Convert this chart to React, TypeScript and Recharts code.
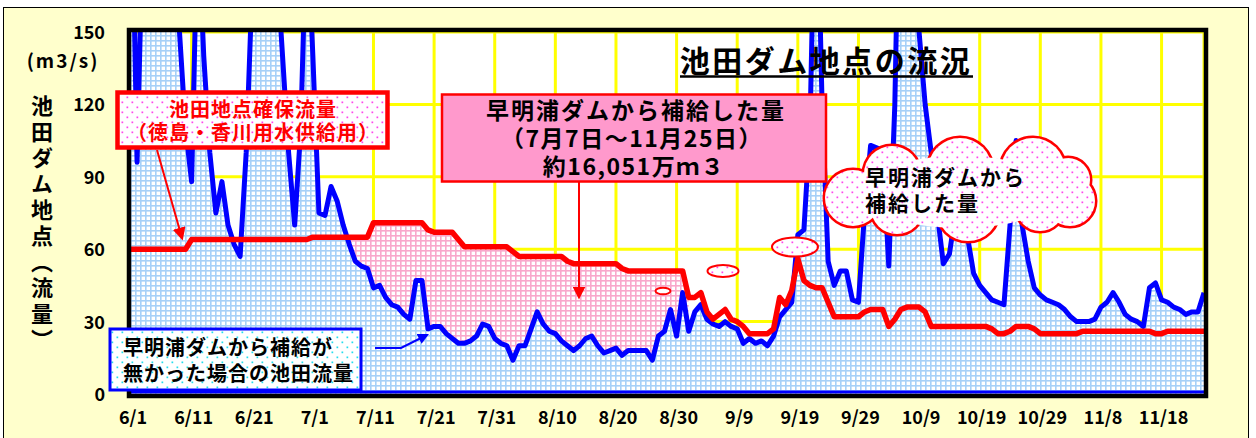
import React from 'react';
import { ComposedChart, Area, Line, XAxis, YAxis, CartesianGrid } from 'recharts';

const FONT = '"Noto Sans CJK JP", "Noto Sans", sans-serif';

// 6/1 .. 11/25, one value per day (m3/s)
const BLUE_FLOW = [
  230, 96, 200, 250, 220, 260, 240, 175, 150, 110,
  88, 200, 140, 100, 75, 88, 70, 62, 57, 100,
  170, 210, 230, 220, 180, 140, 100, 70, 110, 200,
  140, 75, 74, 86, 80, 70, 62, 55, 53, 52,
  44, 45, 40, 37, 36, 33, 31, 47, 47, 27,
  28, 28, 25, 23, 21, 21, 22, 24, 29, 28,
  23, 21, 20, 14, 20, 20, 27, 34, 29, 26,
  25, 22, 20, 18, 20, 23, 24, 20, 17, 18,
  19, 16, 18, 18, 18, 18, 14, 24, 26, 35,
  24, 42, 26, 34, 37, 31, 29, 28, 30, 28,
  27, 21, 23, 21, 22, 20, 24, 32, 35, 38,
  66, 68, 110, 230, 120, 55, 45, 51, 51, 39,
  38, 75, 103, 102, 101, 53, 120, 250, 290, 240,
  150, 120, 100, 75, 54, 58, 75, 90, 65, 50,
  45, 42, 39, 38, 37, 70, 105, 70, 55, 44,
  41, 39, 38, 37, 35, 32, 30, 30, 30, 31,
  36, 38, 42, 38, 33, 31, 30, 28, 44, 46,
  39, 38, 36, 35, 33, 34, 34, 42,
];

const RED_FLOW = [
  60, 60, 60, 60, 60, 60, 60, 60, 60, 60,
  64, 64, 64, 64, 64, 64, 64, 64, 64, 64,
  64, 64, 64, 64, 64, 64, 64, 64, 64, 64,
  65, 65, 65, 65, 65, 65, 65, 65, 65, 65,
  71, 71, 71, 71, 71, 71, 71, 71, 71, 68,
  67, 67, 67, 67, 64, 61, 61, 61, 61, 61,
  61, 61, 61, 59, 57, 57, 57, 57, 57, 57,
  57, 57, 55, 54, 54, 54, 54, 54, 54, 54,
  54, 52, 51, 51, 51, 51, 51, 51, 51, 51,
  51, 51, 40, 40, 42, 34, 31, 33, 35, 31,
  30, 28, 25, 25, 25, 25, 27, 40, 37, 43,
  56, 47, 45, 44, 44, 38, 32, 32, 32, 32,
  32, 34, 35, 35, 35, 28, 31, 35, 36, 36,
  36, 34, 28, 28, 28, 28, 28, 28, 28, 28,
  28, 28, 27, 25, 25, 26, 28, 28, 28, 27,
  25, 25, 25, 25, 25, 25, 25, 26, 26, 26,
  26, 26, 26, 26, 26, 26, 26, 26, 26, 25,
  25, 26, 26, 26, 26, 26, 26, 26,
];

// days where the supplied volume is shaded pink
const SUPPLY_FROM = 35;
const SUPPLY_TO = 92;

const TICK_DAYS = [0, 10, 20, 30, 40, 50, 60, 70, 80, 90, 100, 110, 120, 130, 140, 150, 160, 170];
const TICK_LABELS = [
  '6/1', '6/11', '6/21', '7/1', '7/11', '7/21', '7/31', '8/10', '8/20',
  '8/30', '9/9', '9/19', '9/29', '10/9', '10/19', '10/29', '11/8', '11/18',
];
const Y_TICKS = [0, 30, 60, 90, 120, 150];

const data = BLUE_FLOW.map((b, i) => ({
  day: i,
  blue: b,
  red: RED_FLOW[i],
  pink: i >= SUPPLY_FROM && i <= SUPPLY_TO ? [b, Math.max(b, RED_FLOW[i])] : null,
}));

function XTick({ x, y, payload }: any) {
  const label = TICK_LABELS[TICK_DAYS.indexOf(payload.value)];
  return (
    <text x={x + 2} y={y + 30} textAnchor="middle" fontFamily={FONT} fontWeight={700} fontSize={18} fill="#000">
      {label}
    </text>
  );
}

function YTick({ x, y, payload }: any) {
  return (
    <text x={x - 26} y={y + 7} textAnchor="end" fontFamily={FONT} fontWeight={700} fontSize={18} fill="#000">
      {payload.value}
    </text>
  );
}

const CLOUD: [number, number, number][] = [
  [853, 198, 28],
  [892, 174, 28],
  [960, 170, 32],
  [1033, 170, 32],
  [1068, 180, 22],
  [1070, 201, 25],
  [1040, 207, 24],
  [968, 210, 31],
  [897, 208, 26],
];

export default function App() {
  return (
    <div style={{ position: 'relative', width: 1256, height: 438, overflow: 'hidden', background: '#fff' }}>
      <style>{'body{margin:0}'}</style>
      {/* cream frame */}
      <div style={{ position: 'absolute', left: 3, top: 7, width: 1244, height: 450, background: '#FFFFCC', border: '1.5px solid #000' }} />
      {/* plot background */}
      <div style={{ position: 'absolute', left: 131, top: 32, width: 1073, height: 362, background: '#fff' }} />

      <svg width={0} height={0} style={{ position: 'absolute' }}>
        <defs>
          <pattern id="blueGrid" width="5" height="5" patternUnits="userSpaceOnUse">
            <rect width="5" height="5" fill="#fff" />
            <rect width="5" height="1.6" fill="#A6D0F8" />
            <rect width="1.6" height="5" fill="#A6D0F8" />
          </pattern>
          <pattern id="pinkGrid" width="5" height="5" patternUnits="userSpaceOnUse">
            <rect width="5" height="5" fill="#fff" />
            <rect width="5" height="1.6" fill="#F9A8CB" />
            <rect width="1.6" height="5" fill="#F9A8CB" />
          </pattern>
          <pattern id="pinkDots" width="10" height="10" patternUnits="userSpaceOnUse">
            <rect width="10" height="10" fill="#fff" />
            <rect x="1.5" y="1.5" width="1.7" height="1.7" fill="#FF44EE" />
            <rect x="6.5" y="6.5" width="1.7" height="1.7" fill="#FF44EE" />
          </pattern>
          <pattern id="cyanDots" width="10" height="10" patternUnits="userSpaceOnUse">
            <rect width="10" height="10" fill="#fff" />
            <rect x="1.5" y="1.5" width="1.7" height="1.7" fill="#22DDEE" />
            <rect x="6.5" y="6.5" width="1.7" height="1.7" fill="#22DDEE" />
          </pattern>
          <marker id="redHead" viewBox="0 0 10 10" refX="8" refY="5" markerWidth="13" markerHeight="13" markerUnits="userSpaceOnUse" orient="auto">
            <path d="M0,0 L10,5 L0,10 z" fill="#FF0000" />
          </marker>
          <marker id="blueHead" viewBox="0 0 10 10" refX="8" refY="5" markerWidth="11" markerHeight="11" markerUnits="userSpaceOnUse" orient="auto">
            <path d="M0,0 L10,5 L0,10 z" fill="#0000FF" />
          </marker>
        </defs>
      </svg>

      <div style={{ position: 'absolute', left: 0, top: 0 }}>
        <ComposedChart width={1256} height={438} data={data} margin={{ top: 32, right: 52, bottom: 0, left: 31 }}>
          <CartesianGrid stroke="#FFFF00" strokeWidth={3} />
          <XAxis
            dataKey="day"
            type="number"
            domain={[0, 177]}
            ticks={TICK_DAYS}
            interval={0}
            height={44}
            axisLine={false}
            tickLine={false}
            tickSize={0}
            tickMargin={0}
            tick={<XTick />}
          />
          <YAxis
            type="number"
            domain={[0, 150]}
            ticks={Y_TICKS}
            allowDataOverflow
            width={100}
            axisLine={false}
            tickLine={false}
            tickSize={0}
            tickMargin={0}
            tick={<YTick />}
          />
          <Area type="linear" dataKey="blue" stroke="none" fill="url(#blueGrid)" fillOpacity={1} isAnimationActive={false} />
          <Area type="linear" dataKey="pink" stroke="none" fill="url(#pinkGrid)" fillOpacity={1} isAnimationActive={false} />
          <Line type="linear" dataKey="blue" stroke="#0000FF" strokeWidth={5} dot={false} activeDot={false} strokeLinejoin="round" isAnimationActive={false} />
          <Line type="linear" dataKey="red" stroke="#FF0000" strokeWidth={5.5} dot={false} activeDot={false} strokeLinejoin="round" isAnimationActive={false} />
        </ComposedChart>
      </div>

      <svg width={1256} height={438} style={{ position: 'absolute', left: 0, top: 0, pointerEvents: 'none' }} fontFamily={FONT} fontWeight={700}>
        {/* plot frame */}
        <line x1={131} y1={392} x2={1204} y2={392} stroke="#0000FF" strokeWidth={3} />
        <rect x={129} y={30} width={1077} height={366} fill="none" stroke="#000" strokeWidth={4.5} />

        {/* title */}
        <text x={826} y={72} textAnchor="middle" fontSize={30} letterSpacing={2.5} fill="#000">池田ダム地点の流況</text>
        <line x1={680} y1={76.5} x2={973} y2={76.5} stroke="#000" strokeWidth={2.5} />

        {/* guaranteed flow box */}
        <rect x={117.5} y={92.5} width={270} height={55} fill="url(#pinkDots)" stroke="#FF0000" strokeWidth={4.5} />
        <text x={253} y={117} textAnchor="middle" fontSize={20} letterSpacing={1} fill="#FF0000">池田地点確保流量</text>
        <text x={253} y={140} textAnchor="middle" fontSize={20} letterSpacing={1} fill="#FF0000">（徳島・香川用水供給用）</text>
        <line x1={157} y1={150} x2={182} y2={238} stroke="#FF0000" strokeWidth={2} markerEnd="url(#redHead)" />

        {/* supplied volume box */}
        <rect x={442} y={94.5} width={384} height={87} fill="#FF99CC" stroke="#FF0000" strokeWidth={2.5} />
        <text x={636} y={119} textAnchor="middle" fontSize={23} letterSpacing={2} fill="#000">早明浦ダムから補給した量</text>
        <text x={632} y={147} textAnchor="middle" fontSize={23} letterSpacing={1.5} fill="#000">（7月7日～11月25日）</text>
        <text x={634} y={175} textAnchor="middle" fontSize={23} letterSpacing={1.5} fill="#000">約16,051万ｍ３</text>
        <line x1={579} y1={182} x2={579} y2={297} stroke="#FF0000" strokeWidth={2} markerEnd="url(#redHead)" />

        {/* thought bubbles */}
        <ellipse cx={663} cy={291} rx={7.5} ry={3.3} fill="#fff" stroke="#FF0000" strokeWidth={2} />
        <ellipse cx={723} cy={271} rx={15.5} ry={6} fill="url(#pinkDots)" stroke="#FF0000" strokeWidth={2} />
        <ellipse cx={795} cy={247} rx={23} ry={9.5} fill="url(#pinkDots)" stroke="#FF0000" strokeWidth={2} />

        {/* cloud */}
        <g stroke="#FF0000" strokeWidth={5} fill="none">
          {CLOUD.map(([cx, cy, r], i) => <circle key={i} cx={cx} cy={cy} r={r} />)}
        </g>
        <g fill="url(#pinkDots)">
          {CLOUD.map(([cx, cy, r], i) => <circle key={i} cx={cx} cy={cy} r={r} />)}
          <ellipse cx={960} cy={192} rx={100} ry={36} />
        </g>
        <text x={865} y={185} fontSize={21} letterSpacing={2} fill="#000">早明浦ダムから</text>
        <text x={865} y={211} fontSize={21} letterSpacing={2} fill="#000">補給した量</text>

        {/* without-supply box */}
        <rect x={110} y={329} width={251} height={61} fill="url(#cyanDots)" stroke="#0000FF" strokeWidth={3} />
        <text x={123} y={355} fontSize={20} letterSpacing={1} fill="#000">早明浦ダムから補給が</text>
        <text x={123} y={381} fontSize={20} letterSpacing={1} fill="#000">無かった場合の池田流量</text>
        <polyline points="375,348 401,348 427,335" fill="none" stroke="#0000FF" strokeWidth={2} markerEnd="url(#blueHead)" />

        {/* unit */}
        <text x={63} y={68} textAnchor="middle" fontSize={19} letterSpacing={2} fill="#000">(m3/s)</text>
      </svg>

      <div
        style={{
          position: 'absolute',
          left: 31,
          top: 95,
          writingMode: 'vertical-rl',
          fontFamily: FONT,
          fontWeight: 700,
          fontSize: 22,
          lineHeight: 1,
          letterSpacing: 4,
          color: '#000',
        }}
      >
        池田ダム地点（流量）
      </div>
    </div>
  );
}
